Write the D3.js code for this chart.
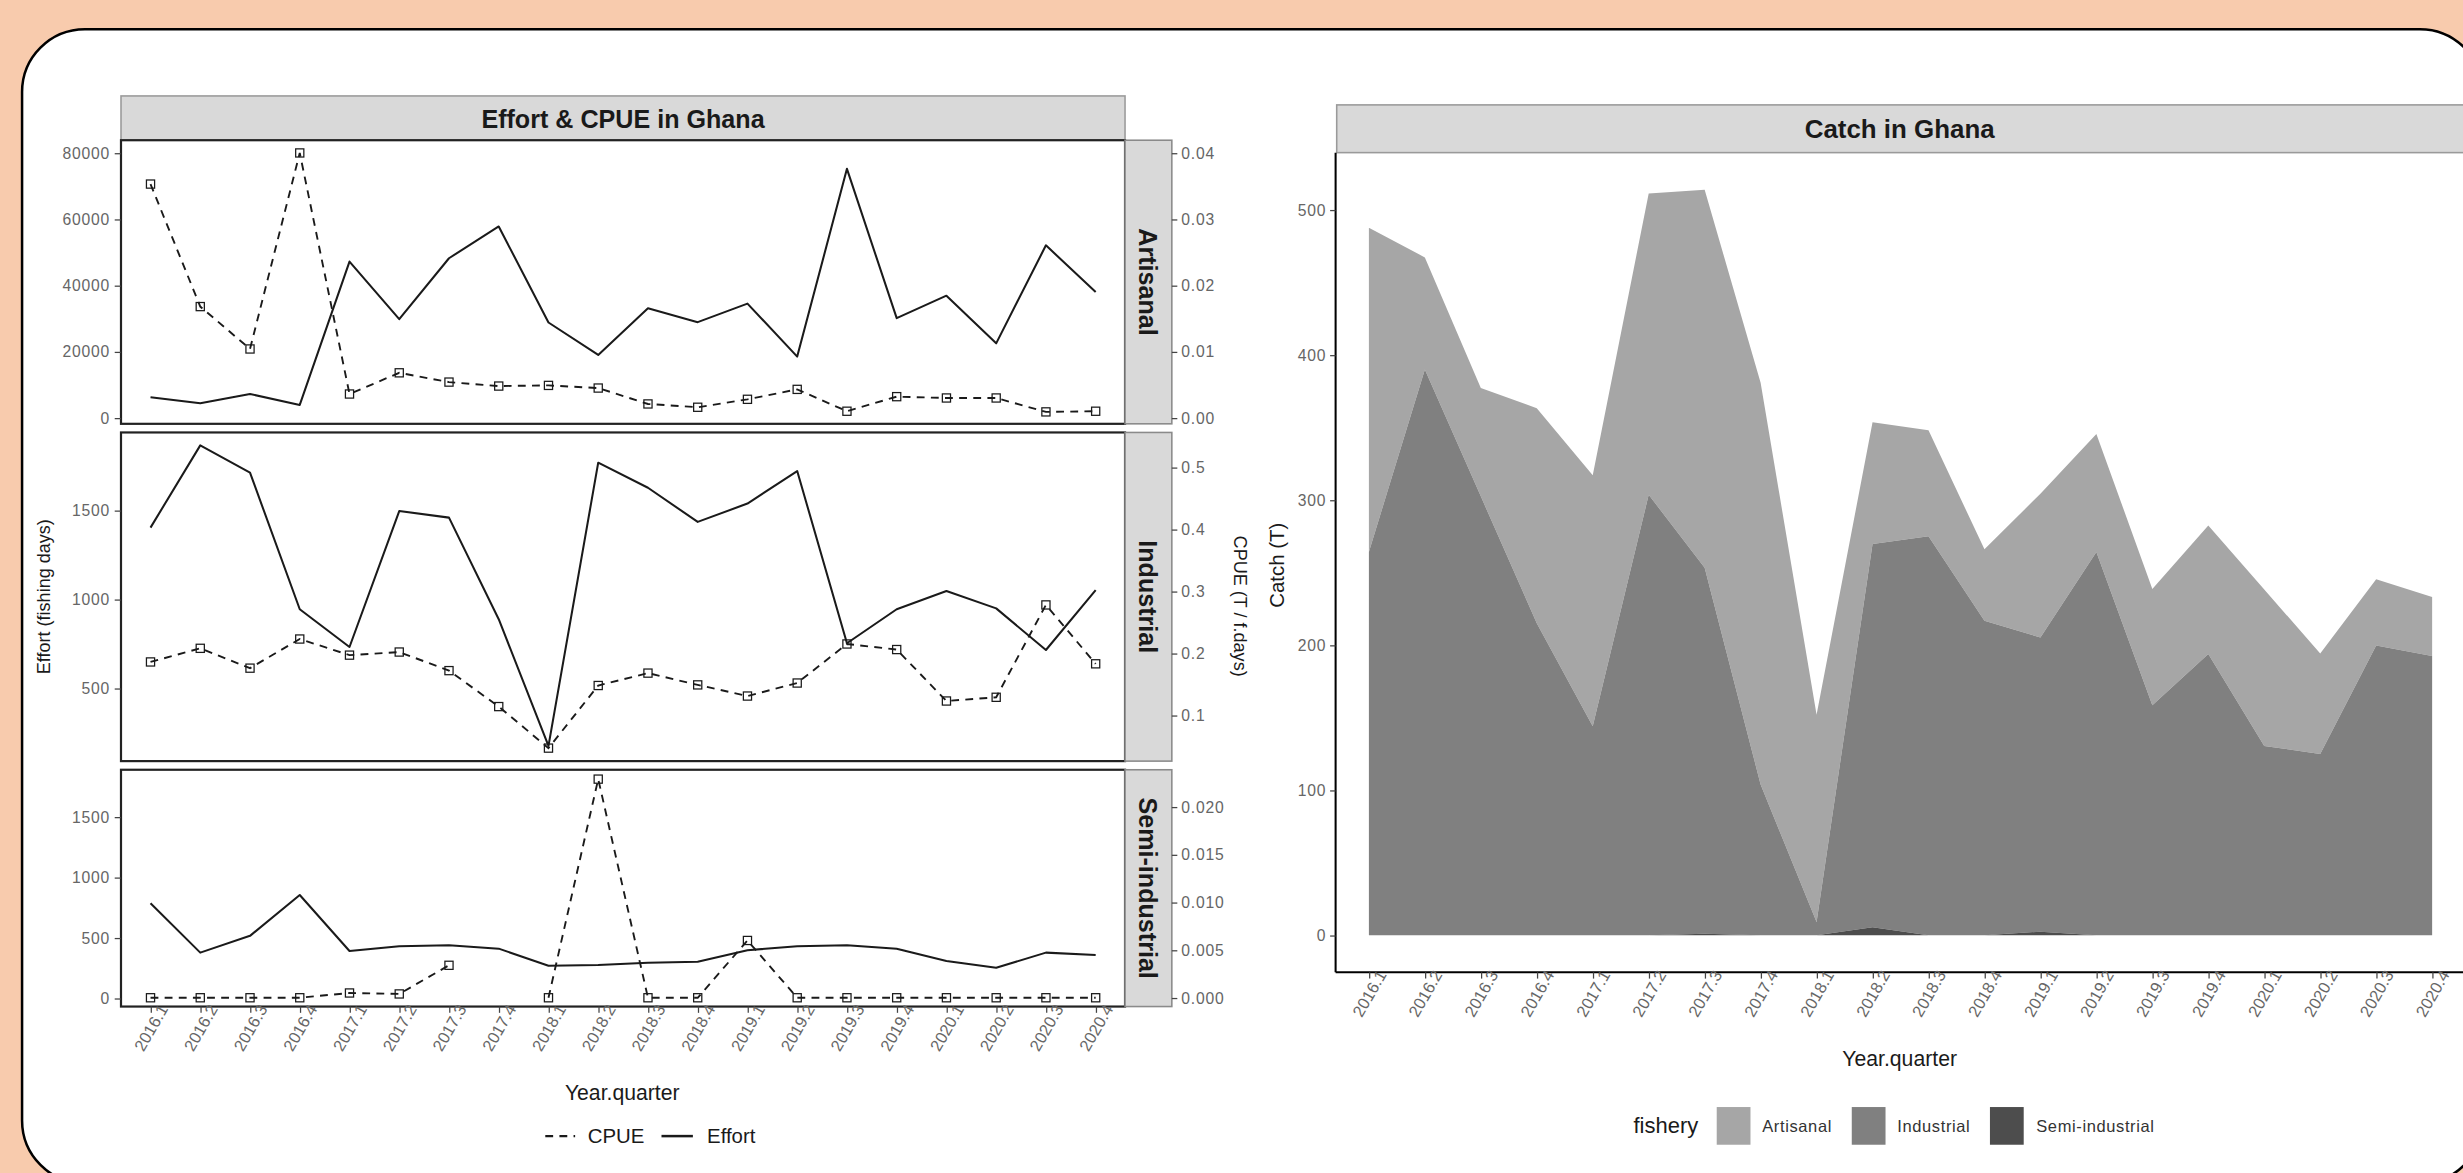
<!DOCTYPE html>
<html><head><meta charset="utf-8">
<script src="https://cdn.jsdelivr.net/npm/d3@7/dist/d3.min.js"></script>
<style>
html,body{margin:0;padding:0;background:#F8CBAD;overflow:hidden}
svg{display:block}
text{font-family:"Liberation Sans",Arial,sans-serif}
</style></head><body>
<svg id="c" width="2463" height="1173" viewBox="0 0 1568 747"></svg>
<script>
// ---------------- DATA ----------------
const quarters = ["2016.1","2016.2","2016.3","2016.4","2017.1","2017.2","2017.3","2017.4",
  "2018.1","2018.2","2018.3","2018.4","2019.1","2019.2","2019.3","2019.4",
  "2020.1","2020.2","2020.3","2020.4"];
const fisheries = ["Artisanal","Industrial","Semi-industrial"];

const effortArtisanal = [6200,4400,7200,3900,47200,29800,48200,57800,28800,19000,33100,28900,34500,18500,75200,30100,36900,22500,52100,38000];
const cpueArtisanal   = [0.0353,0.0168,0.0104,0.0400,0.0036,0.0068,0.0054,0.0048,0.0049,0.0045,0.0021,0.0016,0.0028,0.0043,0.0010,0.0032,0.0030,0.0030,0.0009,0.0010];
const effortIndustrial = [1403,1865,1712,944,732,1496,1459,888,176,1768,1627,1435,1538,1721,753,944,1047,949,715,1052];
const cpueIndustrial   = [0.186,0.208,0.176,0.223,0.197,0.202,0.172,0.114,0.047,0.148,0.168,0.149,0.131,0.152,0.215,0.206,0.123,0.129,0.278,0.183];
const effortSemi = [785,377,516,854,391,430,438,410,269,275,294,302,397,430,438,410,308,252,377,358];
const cpueSemi   = [0,0,0,0,0.0005,0.0004,0.0034,null,0,0.0229,0,0,0.0060,0,0,0,0,0,0,0];

const catchArtisanal  = [223.4,77.3,74.7,148.3,173.0,207.7,260.5,276.9,142.9,83.8,73.0,49.2,99.1,81.3,80.2,88.5,107.8,69.2,45.6,40.8];
const catchIndustrial = [264.2,389.9,302.5,215.0,144.0,303.6,252.3,103.9,9.1,264.2,275.0,216.8,202.7,264.2,158.5,193.9,130.5,125.0,199.7,192.4];
const catchSemi       = [0,0,0,0,0,0,1.0,0,0,5.5,0,0,2.5,0,0,0,0,0,0,0];

const ticksArtisanalEffort = [0,20000,40000,60000,80000];
const ticksArtisanalCpue   = [0,0.01,0.02,0.03,0.04];
const ticksIndustrialEffort = [500,1000,1500];
const ticksIndustrialCpue   = [0.1,0.2,0.3,0.4,0.5];
const ticksSemiEffort = [0,500,1000,1500];
const ticksSemiCpue   = [0,0.005,0.01,0.015,0.02];
const ticksCatch = [0,100,200,300,400,500];

// ---------------- DRAW ----------------
const svg = d3.select("#c");
const FONT = '"Liberation Sans",Arial,sans-serif';
const INK = "#1a1a1a", TICKC = "#666";

// background card
svg.append("rect").attr("x",-5).attr("y",-5).attr("width",1580).attr("height",760).attr("fill","#F8CBAD");
svg.append("rect").attr("x",13.8).attr("y",18.6).attr("width",1567).attr("height",735)
  .attr("rx",40).attr("ry",40).attr("fill","#fff").attr("stroke","#000").attr("stroke-width",1.6);

// ===== Left chart =====
const L = {x0:76.8, x1:716.2, stripX1:746};
const xL = d3.scalePoint().domain(quarters).range([95.6,697.5]);

const panels = [
  {name:"Artisanal", effort:effortArtisanal, cpue:cpueArtisanal, top:89.3, bottom:269.9,
   yE:d3.scaleLinear().domain([0,80000]).range([266.1,97.4]),
   yC:d3.scaleLinear().domain([0,0.04]).range([266.1,97.4]),
   tE:ticksArtisanalEffort, tC:ticksArtisanalCpue, fE:d3.format("d"), fC:d3.format(".2f")},
  {name:"Industrial", effort:effortIndustrial, cpue:cpueIndustrial, top:275.4, bottom:484.7,
   yE:d3.scaleLinear().domain([500,1500]).range([438.3,325.0]),
   yC:d3.scaleLinear().domain([0.1,0.5]).range([455.5,297.6]),
   tE:ticksIndustrialEffort, tC:ticksIndustrialCpue, fE:d3.format("d"), fC:d3.format(".1f")},
  {name:"Semi-industrial", effort:effortSemi, cpue:cpueSemi, top:490.2, bottom:641.0,
   yE:d3.scaleLinear().domain([0,1500]).range([635.7,520.2]),
   yC:d3.scaleLinear().domain([0,0.02]).range([635.4,513.8]),
   tE:ticksSemiEffort, tC:ticksSemiCpue, fE:d3.format("d"), fC:d3.format(".3f")}
];

// title strip
svg.append("rect").attr("x",L.x0).attr("y",61.1).attr("width",L.x1-L.x0).attr("height",28.2)
  .attr("fill","#D9D9D9").attr("stroke","#9a9a9a").attr("stroke-width",1);
svg.append("text").attr("x",(L.x0+L.x1)/2).attr("y",75.5).attr("text-anchor","middle")
  .attr("dominant-baseline","central").attr("font-weight","bold").attr("font-size",16)
  .attr("fill",INK).text("Effort & CPUE in Ghana");

function styleAxis(g){
  g.select(".domain").remove();
  g.selectAll(".tick line").attr("stroke","#444").attr("stroke-width",0.8);
  g.selectAll(".tick text").attr("fill",TICKC).attr("font-size",10).attr("font-family",FONT)
    .attr("letter-spacing",0.5);
}
function styleXAxis(g){
  g.select(".domain").remove();
  g.selectAll(".tick line").attr("stroke","#444").attr("stroke-width",0.8);
  g.selectAll(".tick text").attr("fill",TICKC).attr("font-size",10.5).attr("font-family",FONT)
    .attr("y",null).attr("dy",null).attr("text-anchor","end")
    .attr("transform","translate(11,1.5) rotate(-60)");
}

panels.forEach(p=>{
  svg.append("rect").attr("x",L.x0).attr("y",p.top).attr("width",L.x1-L.x0).attr("height",p.bottom-p.top)
    .attr("fill","#fff").attr("stroke","#222").attr("stroke-width",1.4);
  svg.append("rect").attr("x",L.x1).attr("y",p.top).attr("width",L.stripX1-L.x1).attr("height",p.bottom-p.top)
    .attr("fill","#D9D9D9").attr("stroke","#8a8a8a").attr("stroke-width",1);
  svg.append("text").attr("transform",`translate(${(L.x1+L.stripX1)/2},${(p.top+p.bottom)/2}) rotate(90)`)
    .attr("text-anchor","middle").attr("dominant-baseline","central")
    .attr("font-weight","bold").attr("font-size",16).attr("fill",INK).text(p.name);
  svg.append("g").attr("transform",`translate(${L.x0},0)`)
    .call(d3.axisLeft(p.yE).tickValues(p.tE).tickFormat(p.fE).tickSize(4).tickPadding(3)).call(styleAxis);
  svg.append("g").attr("transform",`translate(${L.stripX1},0)`)
    .call(d3.axisRight(p.yC).tickValues(p.tC).tickFormat(p.fC).tickSize(3.5).tickPadding(2.5)).call(styleAxis);
  svg.append("path").datum(quarters.map((q,i)=>[q,p.effort[i]]))
    .attr("fill","none").attr("stroke",INK).attr("stroke-width",1.3).attr("stroke-linejoin","round")
    .attr("d",d3.line().x(d=>xL(d[0])).y(d=>p.yE(d[1])));
  const cd = quarters.map((q,i)=>[q,p.cpue[i]]);
  svg.append("path").datum(cd)
    .attr("fill","none").attr("stroke",INK).attr("stroke-width",1.2).attr("stroke-dasharray","5,4")
    .attr("d",d3.line().defined(d=>d[1]!=null).x(d=>xL(d[0])).y(d=>p.yC(d[1])));
  svg.append("g").selectAll("rect").data(cd.filter(d=>d[1]!=null)).join("rect")
    .attr("x",d=>xL(d[0])-2.6).attr("y",d=>p.yC(d[1])-2.6).attr("width",5.2).attr("height",5.2)
    .attr("fill","none").attr("stroke",INK).attr("stroke-width",0.8);
});

svg.append("g").attr("transform",`translate(0,641)`)
  .call(d3.axisBottom(xL).tickSize(4).tickPadding(2)).call(styleXAxis);

svg.append("text").attr("transform","translate(28,380) rotate(-90)").attr("text-anchor","middle")
  .attr("dominant-baseline","central").attr("font-size",11.5).attr("fill",INK).text("Effort (fishing days)");
svg.append("text").attr("transform","translate(789.5,386) rotate(90)").attr("text-anchor","middle")
  .attr("dominant-baseline","central").attr("font-size",11.5).attr("fill",INK).text("CPUE (T / f.days)");
svg.append("text").attr("x",396).attr("y",696).attr("text-anchor","middle").attr("dominant-baseline","central")
  .attr("font-size",13.5).attr("fill",INK).text("Year.quarter");

const legL = svg.append("g");
legL.append("line").attr("x1",347).attr("x2",366).attr("y1",723.5).attr("y2",723.5)
  .attr("stroke",INK).attr("stroke-width",1.4).attr("stroke-dasharray","5,4");
legL.append("text").attr("x",374).attr("y",723.5).attr("dominant-baseline","central")
  .attr("font-size",13).attr("fill",INK).text("CPUE");
legL.append("line").attr("x1",421).attr("x2",441).attr("y1",723.5).attr("y2",723.5)
  .attr("stroke",INK).attr("stroke-width",1.6);
legL.append("text").attr("x",450).attr("y",723.5).attr("dominant-baseline","central")
  .attr("font-size",13).attr("fill",INK).text("Effort");

// ===== Right chart =====
const R = {x0:850.3, yTop:97.2, yBot:619.2};
const xR = d3.scalePoint().domain(quarters).range([871.5,1548.6]);
const yR = d3.scaleLinear().domain([0,500]).range([595.6,133.6]);
const colors = {"Artisanal":"#A6A6A6","Industrial":"#808080","Semi-industrial":"#4D4D4D"};

svg.append("rect").attr("x",851).attr("y",66.8).attr("width",730).attr("height",30.4)
  .attr("fill","#D9D9D9").attr("stroke","#9a9a9a").attr("stroke-width",1);
svg.append("text").attr("x",1209.5).attr("y",82).attr("text-anchor","middle")
  .attr("dominant-baseline","central").attr("font-weight","bold").attr("font-size",16.5)
  .attr("fill",INK).text("Catch in Ghana");

const table = quarters.map((q,i)=>({q, "Artisanal":catchArtisanal[i], "Industrial":catchIndustrial[i], "Semi-industrial":catchSemi[i]}));
const stacked = d3.stack().keys(["Semi-industrial","Industrial","Artisanal"])(table);
const area = d3.area().x(d=>xR(d.data.q)).y0(d=>yR(d[0])).y1(d=>yR(d[1]));
svg.append("g").selectAll("path").data(stacked.slice().reverse()).join("path")
  .attr("fill",s=>colors[s.key]).attr("d",area);

svg.append("line").attr("x1",R.x0).attr("x2",R.x0).attr("y1",R.yTop).attr("y2",R.yBot)
  .attr("stroke","#000").attr("stroke-width",1.3);
svg.append("line").attr("x1",R.x0).attr("x2",1580).attr("y1",R.yBot).attr("y2",R.yBot)
  .attr("stroke","#000").attr("stroke-width",1.3);
svg.append("g").attr("transform",`translate(${R.x0},0)`)
  .call(d3.axisLeft(yR).tickValues(ticksCatch).tickFormat(d3.format("d")).tickSize(3.5).tickPadding(2.5))
  .call(styleAxis);
svg.append("g").attr("transform",`translate(0,${R.yBot})`)
  .call(d3.axisBottom(xR).tickSize(4).tickPadding(2)).call(styleXAxis);

svg.append("text").attr("transform","translate(813,360) rotate(-90)").attr("text-anchor","middle")
  .attr("dominant-baseline","central").attr("font-size",13).attr("fill",INK).text("Catch (T)");
svg.append("text").attr("x",1209.5).attr("y",674).attr("text-anchor","middle").attr("dominant-baseline","central")
  .attr("font-size",13.5).attr("fill",INK).text("Year.quarter");

const legR = svg.append("g");
legR.append("text").attr("x",1040).attr("y",717).attr("dominant-baseline","central")
  .attr("font-size",14).attr("fill",INK).text("fishery");
const keyX = [1093,1179,1267], labX = [1122,1208,1296.5];
fisheries.forEach((f,i)=>{
  legR.append("rect").attr("x",keyX[i]).attr("y",705).attr("width",21.5).attr("height",24)
    .attr("fill",colors[f]);
  legR.append("text").attr("x",labX[i]).attr("y",717).attr("dominant-baseline","central")
    .attr("font-size",10.5).attr("fill","#333").attr("letter-spacing",0.4).text(f);
});
</script>
</body></html>
